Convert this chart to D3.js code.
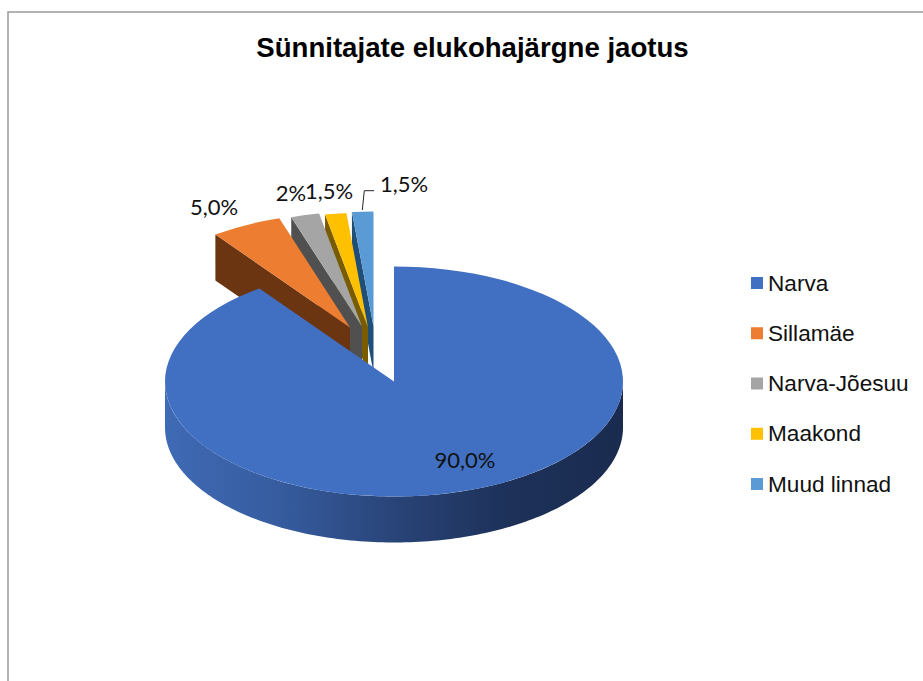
<!DOCTYPE html>
<html>
<head>
<meta charset="utf-8">
<script src="https://cdn.jsdelivr.net/npm/d3@7"></script>
<style>
    html, body { margin: 0; padding: 0; background: #fff; overflow: hidden; }
    svg { display: block; }
</style>
</head>
<body>
<div class="vis"></div>
<script>
const title = "Sünnitajate elukohajärgne jaotus";
const categories = ["Narva", "Sillamäe", "Narva-Jõesuu", "Maakond", "Muud linnad"];
const values = [90, 5, 2, 1.5, 1.5];
const valueLabels = ["90,0%", "5,0%", "2%", "1,5%", "1,5%"];

const topColors = ["#4170c2", "#ed7d31", "#a5a5a5", "#ffc000", "#5b9bd5"];
const cutColors = ["#2f5597", "#6b3511", "#505050", "#7a5c00", "#1f4e79"];

// layout, by eye from the reference
const w = 923, h = 681;
const cx = 394, cy = 381.5, rx = 229, ry = 115, depth = 46;
const explode = [[0, 0], [-44, -54], [-32, -55], [-26, -54], [-20.5, -55]];
const labelPos = [[465, 468], [214, 215], [291, 201], [329, 199], [404, 192]];

const svg = d3.select(".vis").append("svg").attr("width", w).attr("height", h);

// wall gradient of the big slice
const defs = svg.append("defs");
const grad = defs.append("linearGradient").attr("id", "wall")
    .attr("gradientUnits", "userSpaceOnUse")
    .attr("x1", cx - rx).attr("x2", cx + rx).attr("y1", 0).attr("y2", 0);
[[0, "#3f6ab5"], [0.25, "#365c9f"], [0.5, "#294478"], [0.75, "#1d3159"], [1, "#1a2b4f"]].forEach(s => {
    grad.append("stop").attr("offset", s[0]).attr("stop-color", s[1]);
});

// chart frame runs off the right and bottom of the picture
svg.append("rect")
    .attr("x", 8).attr("y", 12).attr("width", w + 20).attr("height", h + 20)
    .attr("fill", "none").attr("stroke", "#999").attr("stroke-width", 1.5);

svg.append("text")
    .attr("x", 472.5).attr("y", 57)
    .attr("text-anchor", "middle")
    .style("font-family", "'Liberation Sans', Arial, sans-serif")
    .style("font-weight", "bold")
    .style("font-size", "27.6px")
    .style("fill", "#000")
    .text(title);

const pie = d3.pie().sort(null).value(d => d)(values);
const arc = d3.arc().innerRadius(0).outerRadius(rx);
const flat = ry / rx;
const px = (a, i) => cx + explode[i][0] + rx * Math.sin(a);
const py = (a, i) => cy + explode[i][1] + ry * -Math.cos(a);
const line = d3.line();

// back slices first, the big one goes on top
d3.range(values.length - 1, -1, -1).forEach(i => {
    const d = pie[i];
    const g = svg.append("g");
    const ox = cx + explode[i][0], oy = cy + explode[i][1];

    if (i > 0) {
        // cut face looking towards the viewer
        g.append("path")
            .attr("d", line([
                [ox, oy], [px(d.startAngle, i), py(d.startAngle, i)],
                [px(d.startAngle, i), py(d.startAngle, i) + depth], [ox, oy + depth]
            ]) + "Z")
            .attr("fill", cutColors[i]);
    } else {
        // front wall
        const rim = d3.range(Math.PI / 2, 3 * Math.PI / 2 + 0.001, 0.02)
            .map(a => [px(a, i), py(a, i)]);
        const low = rim.slice().reverse().map(p => [p[0], p[1] + depth]);
        g.append("path")
            .attr("d", line(rim.concat(low)) + "Z")
            .attr("fill", "url(#wall)");
    }

    g.append("path")
        .attr("transform", `translate(${ox}, ${oy}) scale(1, ${flat})`)
        .attr("d", arc(d))
        .attr("fill", topColors[i]);
});

// leader line of the last label
svg.append("path")
    .attr("d", line([[362.3, 210], [364.3, 190.7], [374, 190.7]]))
    .attr("fill", "none").attr("stroke", "#262626").attr("stroke-width", 1);

svg.append("g").selectAll("text").data(valueLabels).join("text")
    .attr("x", (d, i) => labelPos[i][0])
    .attr("y", (d, i) => labelPos[i][1])
    .attr("text-anchor", "middle")
    .style("font-family", "Lato, Carlito, sans-serif")
    .style("font-size", "22px")
    .style("fill", "#111")
    .text(d => d);

// legend
const legendY = d3.scalePoint().domain(categories).range([283, 484]);
const legendColor = d3.scaleOrdinal().domain(categories).range(topColors);
const legend = svg.append("g").selectAll("g").data(categories).join("g")
    .attr("transform", d => `translate(751, ${legendY(d)})`);
legend.append("rect")
    .attr("x", 0).attr("y", -6).attr("width", 12).attr("height", 12)
    .attr("fill", d => legendColor(d));
legend.append("text")
    .attr("x", 17).attr("y", 7.5)
    .style("font-family", "'Liberation Sans', Arial, sans-serif")
    .style("font-size", "22.6px")
    .style("fill", "#111")
    .text(d => d);
</script>
</body>
</html>
